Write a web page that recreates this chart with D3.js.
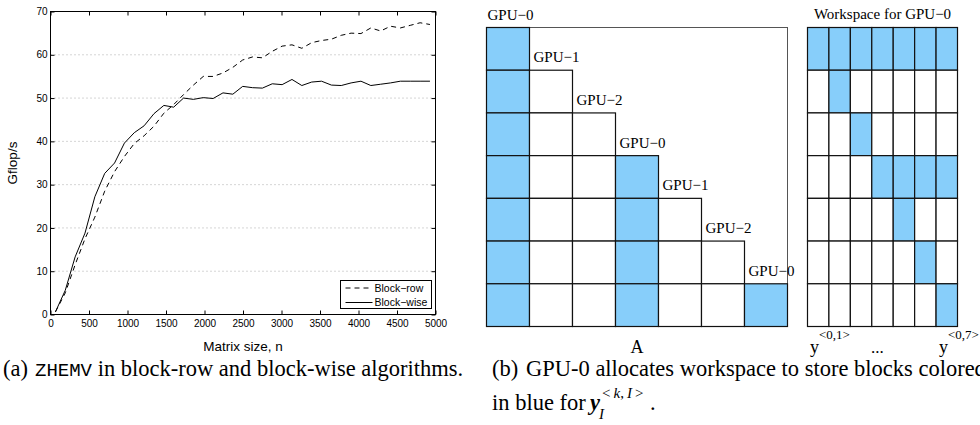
<!DOCTYPE html>
<html>
<head>
<meta charset="utf-8">
<script src="https://cdn.jsdelivr.net/npm/d3@7"></script>
<style>
  body { margin: 0; background: #fff; }
</style>
</head>
<body>
<svg id="fig" width="980" height="425"></svg>
<script>
// panel (a): ZHEMV performance
var matrixSizes = [64, 192, 320, 448, 576, 704, 832, 960, 1088, 1216, 1344, 1472, 1600,
  1728, 1856, 1984, 2112, 2240, 2368, 2496, 2624, 2752, 2880, 3008, 3136, 3264, 3392,
  3520, 3648, 3776, 3904, 4032, 4160, 4288, 4416, 4544, 4672, 4800, 4928];
var blockRow = [0.6, 5.0, 11.5, 17.5, 22.5, 28.5, 33.0, 36.5, 39.5, 41.3, 43.5, 46.5, 48.5,
  50.8, 53.0, 55.0, 55.0, 55.8, 57.1, 58.8, 59.5, 59.3, 60.8, 62.0, 62.3, 61.5, 62.8,
  63.3, 63.6, 64.5, 65.0, 64.9, 66.2, 65.5, 66.6, 66.2, 66.8, 67.4, 67.0];
var blockWise = [0.6, 5.6, 13.3, 18.8, 27.2, 32.6, 35.0, 39.6, 42.0, 43.6, 46.4, 48.3, 47.9,
  50.0, 49.7, 50.1, 49.9, 51.2, 50.9, 52.7, 52.4, 52.3, 53.3, 53.1, 54.3, 52.9, 53.7,
  53.9, 53.0, 52.9, 53.5, 53.9, 52.9, 53.2, 53.5, 53.9, 53.9, 53.9, 53.9];
var xTicks = [0, 500, 1000, 1500, 2000, 2500, 3000, 3500, 4000, 4500, 5000];
var yTicks = [0, 10, 20, 30, 40, 50, 60, 70];
var seriesNames = ["Block\u2212row", "Block\u2212wise"];

// panel (b): block ownership and workspace
var blockIds = [0, 1, 2, 3, 4, 5, 6];
var gpuOwner = [0, 1, 2, 0, 1, 2, 0];
var workspaceBlue = [[0, 1, 2, 3, 4, 5, 6], [1], [2], [3, 4, 5, 6], [4], [5], [6]];

var blue = "#87cefa";
var sans = "'Liberation Sans', Arial, sans-serif";
var serif = "'Liberation Serif', 'Times New Roman', serif";
var mono = "'Liberation Mono', 'Courier New', monospace";

var svg = d3.select("#fig");

// ---------- (a) line chart ----------
var x = d3.scaleLinear().domain([0, 5000]).range([50.5, 435.5]);
var y = d3.scaleLinear().domain([0, 70]).range([314.5, 11.5]);

svg.append("g").selectAll("line")
  .data(yTicks.slice(1, -1))
  .enter().append("line")
    .attr("x1", x(0)).attr("x2", x(5000))
    .attr("y1", function(d) { return y(d) }).attr("y2", function(d) { return y(d) })
    .attr("stroke", "#aaa").attr("stroke-dasharray", "1,3")

svg.append("g")
  .attr("transform", "translate(0," + y(0) + ")")
  .call(d3.axisBottom(x).tickValues(xTicks).tickSize(-4).tickPadding(5).tickFormat(d3.format("d")))
svg.append("g")
  .attr("transform", "translate(0," + y(70) + ")")
  .call(d3.axisTop(x).tickValues(xTicks).tickSize(-4).tickFormat(""))
svg.append("g")
  .attr("transform", "translate(" + x(0) + ",0)")
  .call(d3.axisLeft(y).tickValues(yTicks).tickSize(-4).tickPadding(3))
svg.append("g")
  .attr("transform", "translate(" + x(5000) + ",0)")
  .call(d3.axisRight(y).tickValues(yTicks).tickSize(-4).tickFormat(""))

svg.selectAll(".domain").remove()
svg.selectAll(".tick text").attr("font-family", sans).attr("font-size", 10).attr("fill", "#000")
svg.selectAll(".tick line").attr("stroke", "#000")

svg.append("rect")
  .attr("x", x(0)).attr("y", y(70))
  .attr("width", x(5000) - x(0)).attr("height", y(0) - y(70))
  .attr("fill", "none").attr("stroke", "#000")

var valueline = d3.line()
  .x(function(d) { return x(d[0]) })
  .y(function(d) { return y(d[1]) })

svg.append("path")
  .datum(d3.zip(matrixSizes, blockRow))
  .attr("d", valueline)
  .attr("fill", "none").attr("stroke", "#000").attr("stroke-width", 1)
  .attr("stroke-dasharray", "5,4")
svg.append("path")
  .datum(d3.zip(matrixSizes, blockWise))
  .attr("d", valueline)
  .attr("fill", "none").attr("stroke", "#000").attr("stroke-width", 1)

svg.append("text")
  .attr("transform", "translate(17," + (y(35)) + ") rotate(-90)")
  .attr("text-anchor", "middle")
  .attr("font-family", sans).attr("font-size", 13.5)
  .text("Gflop/s")

svg.append("text")
  .attr("x", (x(0) + x(5000)) / 2).attr("y", 351)
  .attr("text-anchor", "middle")
  .attr("font-family", sans).attr("font-size", 13.5)
  .text("Matrix size, n")

// legend
var legend = svg.append("g").attr("transform", "translate(340.5,280.5)")
legend.append("rect")
  .attr("width", 91).attr("height", 28)
  .attr("fill", "#fff").attr("stroke", "#000")
seriesNames.forEach(function(name, i) {
  var ly = 7.5 + i * 14.5
  legend.append("line")
    .attr("x1", 5).attr("x2", 32).attr("y1", ly).attr("y2", ly)
    .attr("stroke", "#000")
    .attr("stroke-dasharray", i == 0 ? "5,4" : null)
  legend.append("text")
    .attr("x", 34).attr("y", ly + 3.8)
    .attr("font-family", sans).attr("font-size", 10.5)
    .text(name)
})

// ---------- (b) matrix diagram ----------
var mx = d3.scaleBand().domain(blockIds).range([486.5, 787.5])
var my = d3.scaleBand().domain(blockIds).range([27.5, 326.5])
var wx = d3.scaleBand().domain(blockIds).range([807.5, 957.5])

svg.append("rect")
  .attr("x", 486.5).attr("y", 27.5)
  .attr("width", 301).attr("height", 299)
  .attr("fill", "#fff").attr("stroke", "#555")

var lowerCells = []
blockIds.forEach(function(i) {
  blockIds.forEach(function(j) { if (j <= i) lowerCells.push([i, j]) })
})
svg.append("g").selectAll("rect")
  .data(lowerCells)
  .enter().append("rect")
    .attr("x", function(d) { return mx(d[1]) })
    .attr("y", function(d) { return my(d[0]) })
    .attr("width", mx.bandwidth()).attr("height", my.bandwidth())
    .attr("fill", function(d) { return gpuOwner[d[1]] == 0 ? blue : "#fff" })
    .attr("stroke", "#111").attr("stroke-width", 1.2)

svg.append("g").selectAll("text")
  .data(blockIds)
  .enter().append("text")
    .attr("x", function(j) { return mx(j) + (j == 0 ? 1 : 4) })
    .attr("y", function(j) { return my(j) - 8 })
    .attr("font-family", serif).attr("font-size", 15)
    .text(function(j) { return "GPU\u2212" + gpuOwner[j] })

var wsCells = []
blockIds.forEach(function(i) {
  blockIds.forEach(function(j) { wsCells.push([i, j]) })
})
svg.append("g").selectAll("rect")
  .data(wsCells)
  .enter().append("rect")
    .attr("x", function(d) { return wx(d[1]) })
    .attr("y", function(d) { return my(d[0]) })
    .attr("width", wx.bandwidth()).attr("height", my.bandwidth())
    .attr("fill", function(d) { return workspaceBlue[d[0]].indexOf(d[1]) >= 0 ? blue : "#fff" })
    .attr("stroke", "#111").attr("stroke-width", 1.2)

svg.append("text")
  .attr("x", (wx(0) + wx(6) + wx.bandwidth()) / 2).attr("y", 19)
  .attr("text-anchor", "middle")
  .attr("font-family", serif).attr("font-size", 15)
  .text("Workspace for GPU\u22120")

svg.append("text")
  .attr("x", (mx(0) + mx(6) + mx.bandwidth()) / 2).attr("y", 353)
  .attr("text-anchor", "middle")
  .attr("font-family", serif).attr("font-size", 18)
  .text("A")

function vecLabel(xp, sup) {
  var t = svg.append("text").attr("x", xp).attr("y", 353)
    .attr("font-family", serif).attr("font-size", 18)
  t.append("tspan").text("y")
  t.append("tspan").attr("dy", -14).attr("font-size", 13).text(sup)
}
vecLabel(810, "<0,1>")
vecLabel(939, "<0,7>")
svg.append("text")
  .attr("x", 871).attr("y", 353)
  .attr("font-family", serif).attr("font-size", 17)
  .text("...")

// ---------- captions ----------
var capA = svg.append("text").attr("y", 376).attr("font-family", serif).attr("font-size", 22.5)
capA.append("tspan").attr("x", 3).text("(a)")
capA.append("tspan").attr("x", 35).attr("font-family", mono).attr("font-size", 19).text("ZHEMV")
capA.append("tspan").text(" in block-row and block-wise algorithms.")

var capB = svg.append("text").attr("y", 376).attr("font-family", serif).attr("font-size", 22.5)
capB.append("tspan").attr("x", 492).text("(b)")
capB.append("tspan").attr("x", 526).text("GPU-0 allocates workspace to store blocks colored")

var capB2 = svg.append("text").attr("y", 410).attr("font-family", serif).attr("font-size", 22.5)
capB2.append("tspan").attr("x", 492).text("in blue for")
capB2.append("tspan").attr("x", 590).attr("font-weight", "bold").attr("font-style", "italic").text("y")
capB2.append("tspan").attr("x", 599).attr("y", 419).attr("font-size", 15).attr("font-style", "italic").text("I")
capB2.append("tspan").attr("x", 602).attr("y", 398).attr("font-size", 15).text("<")
capB2.append("tspan").attr("dx", 3).attr("font-size", 15).attr("font-style", "italic").text("k")
capB2.append("tspan").attr("font-size", 15).text(",")
capB2.append("tspan").attr("dx", 3).attr("font-size", 15).attr("font-style", "italic").text("I")
capB2.append("tspan").attr("dx", 3).attr("font-size", 15).text(">")
capB2.append("tspan").attr("x", 650).attr("y", 410).text(".")
</script>
</body>
</html>
